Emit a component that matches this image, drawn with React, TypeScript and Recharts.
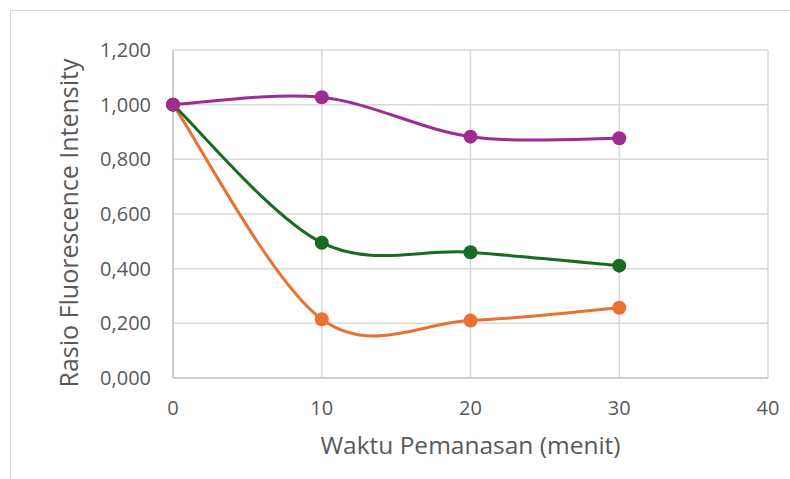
import React from 'react'
import { LineChart, Line, XAxis, YAxis, CartesianGrid } from 'recharts'

// heating time (minutes)
const times = [0, 10, 20, 30]
const xTicks = [0, 10, 20, 30, 40]
const yTicks = [0, 0.2, 0.4, 0.6, 0.8, 1.0, 1.2]

// fluorescence intensity ratio per series
const orangeValues = [1.0, 0.215, 0.21, 0.257]
const greenValues = [1.0, 0.495, 0.46, 0.411]
const purpleValues = [1.0, 1.027, 0.883, 0.877]

const toPoints = (vals: number[]) => times.map((t, i) => ({ t, v: vals[i] }))

const series = [
  { key: 'orange', data: toPoints(orangeValues), color: '#E97132' },
  { key: 'green', data: toPoints(greenValues), color: '#196B24' },
  { key: 'purple', data: toPoints(purpleValues), color: '#A02B93' },
]

// Excel-like smoothed line (Catmull-Rom through the points)
const excelSmooth = (context: any) => {
  let pts: number[][] = []
  return {
    areaStart() {},
    areaEnd() {},
    lineStart() {
      pts = []
    },
    lineEnd() {
      const n = pts.length
      if (!n) return
      context.moveTo(pts[0][0], pts[0][1])
      for (let i = 0; i < n - 1; i++) {
        const p0 = pts[Math.max(i - 1, 0)]
        const p1 = pts[i]
        const p2 = pts[i + 1]
        const p3 = pts[Math.min(i + 2, n - 1)]
        context.bezierCurveTo(
          p1[0] + (p2[0] - p0[0]) / 6,
          p1[1] + (p2[1] - p0[1]) / 6,
          p2[0] - (p3[0] - p1[0]) / 6,
          p2[1] - (p3[1] - p1[1]) / 6,
          p2[0],
          p2[1]
        )
      }
    },
    point(x: number, y: number) {
      pts.push([+x, +y])
    },
  }
}

const fmt = (v: number) => v.toFixed(3).replace('.', ',')
const FONT = '"Open Sans", sans-serif'
const TEXT = '#595959'
const GRID = '#d9d9d9'

const YTitle = (props: any) => {
  const vb = props.viewBox
  const cx = vb.x + 68
  const cy = vb.y + vb.height / 2 + 9
  return (
    <text
      x={cx}
      y={cy}
      transform={`rotate(-90, ${cx}, ${cy})`}
      textAnchor="middle"
      dominantBaseline="central"
      fill={TEXT}
      fontSize={25}
      fontFamily={FONT}
    >
      Rasio Fluorescence Intensity
    </text>
  )
}

export default function App() {
  return (
    <div style={{ position: 'absolute', left: 0, top: 0, width: 790, height: 479, overflow: 'hidden', background: '#fff' }}>
      <div style={{ position: 'absolute', left: 10, top: 10, width: 900, height: 600, border: `1px solid ${GRID}` }} />
      <div style={{ position: 'absolute', left: 0, top: 0 }}>
        <LineChart width={790} height={479} margin={{ top: 50, right: 22, left: 0, bottom: 0 }}>
          <CartesianGrid stroke={GRID} strokeWidth={1.5} />
          <XAxis
            type="number"
            dataKey="t"
            domain={[0, 40]}
            ticks={xTicks}
            height={101}
            tickLine={false}
            tickSize={0}
            tickMargin={23}
            axisLine={{ stroke: '#c8c8c8', strokeWidth: 1.5 }}
            tick={{ fill: TEXT, fontSize: 20, fontFamily: FONT }}
            label={{ value: 'Waktu Pemanasan (menit)', position: 'insideBottom', offset: 25, style: { fill: TEXT, fontSize: 24.5, fontFamily: FONT } }}
          />
          <YAxis
            type="number"
            domain={[0, 1.2]}
            ticks={yTicks}
            width={173}
            tickLine={false}
            tickSize={0}
            tickMargin={22}
            axisLine={{ stroke: '#c8c8c8', strokeWidth: 1.5 }}
            tickFormatter={fmt}
            tick={{ fill: TEXT, fontSize: 20, fontFamily: FONT }}
            label={<YTitle />}
          />
          {series.map(s => (
            <Line
              key={s.key}
              data={s.data}
              dataKey="v"
              type={excelSmooth as any}
              stroke={s.color}
              strokeWidth={3}
              dot={{ r: 7, fill: s.color, stroke: s.color, strokeWidth: 0 }}
              activeDot={false}
              isAnimationActive={false}
            />
          ))}
        </LineChart>
      </div>
    </div>
  )
}
